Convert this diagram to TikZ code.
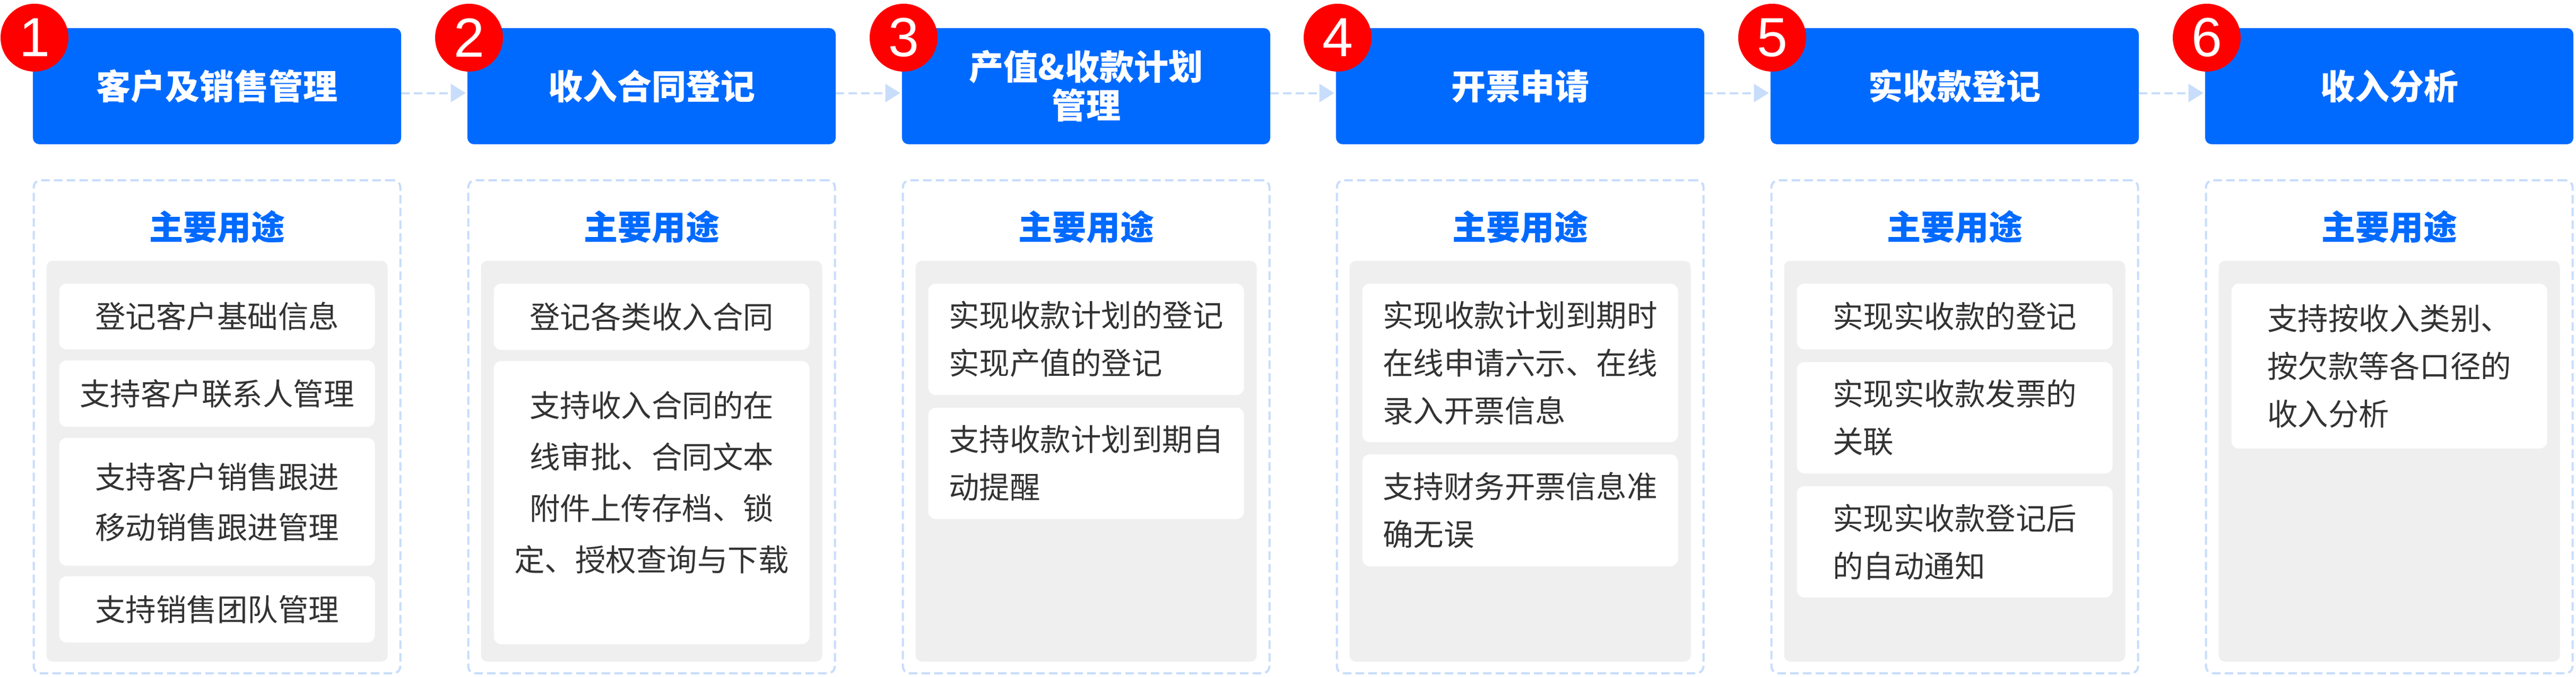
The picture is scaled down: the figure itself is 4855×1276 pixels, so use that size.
\documentclass[tikz,border=0pt]{standalone}
\usepackage{fontspec}
\setmainfont{Noto Sans CJK SC}
\newfontfamily\numfont{Liberation Sans}
\usetikzlibrary{arrows.meta}

\definecolor{headblue}{RGB}{0,106,255}
\definecolor{paleblue}{RGB}{200,221,251}
\definecolor{panelgrey}{RGB}{239,239,239}
\definecolor{itemgrey}{RGB}{51,51,51}
\definecolor{dotred}{RGB}{255,0,0}

\tikzset{
 headbox/.style={rectangle, fill=headblue, rounded corners=6pt, minimum width=347pt, minimum height=109.5pt, inner sep=0pt, text=white, align=center, font=\fontsize{32.5pt}{36.5pt}\selectfont\bfseries},
 numdot/.style={circle, fill=dotred, minimum size=64pt, inner sep=0pt, text=white, font=\numfont\fontsize{52pt}{52pt}\selectfont},
 usebox/.style={rectangle, draw=paleblue, line width=2pt, dash pattern=on 8pt off 4pt, rounded corners=6.5pt, minimum width=345.5pt, minimum height=465pt, inner sep=0pt},
 usetitle/.style={text=headblue, inner sep=0pt, font=\fontsize{32pt}{32pt}\selectfont\bfseries},
 greypanel/.style={rectangle, fill=panelgrey, rounded corners=6pt, minimum width=321.5pt, minimum height=378pt, inner sep=0pt},
 itembox/.style={rectangle, fill=white, rounded corners=7pt, minimum width=297.5pt, inner sep=0pt, text=itemgrey, align=left, font=\fontsize{28.75pt}{45pt}\selectfont},
 itemtext/.style={text=itemgrey, inner sep=0pt, align=center, font=\fontsize{28.75pt}{48.5pt}\selectfont},
 flowarrow/.style={draw=paleblue, line width=2pt, dash pattern=on 8pt off 4pt, -{Triangle[length=14pt,width=17pt]}}
}

\begin{document}
\begin{tikzpicture}[x=0.5pt, y=-0.5pt]

\fill[white] (0,0) rectangle (4855,1276);
\useasboundingbox (0,0) rectangle (4855,1276);

%% blue step boxes
\path
(409,162.5) node[headbox](head1){客户及销售管理}
(1228,162.5) node[headbox](head2){收入合同登记}
(2047,162.5) node[headbox](head3){产值\&收款计划\\管理}
(2865,162.5) node[headbox](head4){开票申请}
(3684,162.5) node[headbox](head5){实收款登记}
(4503,162.5) node[headbox](head6){收入分析};

%% red step numbers
\path
(65,71) node[numdot](num1){1}
(884,71) node[numdot](num2){2}
(1703,71) node[numdot](num3){3}
(2521,71) node[numdot](num4){4}
(3340,71) node[numdot](num5){5}
(4159,71) node[numdot](num6){6};

%% dashed arrows between steps
\draw[flowarrow] ([yshift=-6.5pt]head1.east) -- ([yshift=-6.5pt, xshift=-1.5pt]head2.west);
\draw[flowarrow] ([yshift=-6.5pt]head2.east) -- ([yshift=-6.5pt, xshift=-1.5pt]head3.west);
\draw[flowarrow] ([yshift=-6.5pt]head3.east) -- ([yshift=-6.5pt, xshift=-1.5pt]head4.west);
\draw[flowarrow] ([yshift=-6.5pt]head4.east) -- ([yshift=-6.5pt, xshift=-1.5pt]head5.west);
\draw[flowarrow] ([yshift=-6.5pt]head5.east) -- ([yshift=-6.5pt, xshift=-1.5pt]head6.west);

%% dashed frames, titles and grey panels
\path
(409,805) node[usebox](use1){}
(1228,805) node[usebox](use2){}
(2047,805) node[usebox](use3){}
(2865,805) node[usebox](use4){}
(3684,805) node[usebox](use5){}
(4503,805) node[usebox](use6){};
\path
(409,428) node[usetitle](title1){主要用途}
(1228,428) node[usetitle](title2){主要用途}
(2047,428) node[usetitle](title3){主要用途}
(2865,428) node[usetitle](title4){主要用途}
(3684,428) node[usetitle](title5){主要用途}
(4503,428) node[usetitle](title6){主要用途};
\path
(409,870) node[greypanel](panel1){}
(1228,870) node[greypanel](panel2){}
(2047,870) node[greypanel](panel3){}
(2865,870) node[greypanel](panel4){}
(3684,870) node[greypanel](panel5){}
(4503,870) node[greypanel](panel6){};

%% items of step 1
\path
(409,597) node[itembox, minimum height=62pt](item1a){登记客户基础信息}
(409,742.5) node[itembox, minimum height=62.5pt](item1b){支持客户联系人管理}
(409,946.5) node[itembox, minimum height=120.5pt, font=\fontsize{28.75pt}{47.5pt}\selectfont](item1c){支持客户销售跟进\\移动销售跟进管理}
(409,1149.5) node[itembox, minimum height=62.5pt](item1d){支持销售团队管理};

%% items of step 2
\path
(1228,597.5) node[itembox, minimum height=62.5pt](item2a){登记各类收入合同}
(1228,948) node[itembox, minimum height=267pt](item2b){};
\node[itemtext](text2b) at (1228,910) {支持收入合同的在\\线审批、合同文本\\附件上传存档、锁\\定、授权查询与下载};

%% items of step 3
\path
(2047,640) node[itembox, minimum height=105pt](item3a){实现收款计划的登记\\实现产值的登记}
(2047,874) node[itembox, minimum height=105pt](item3b){支持收款计划到期自\\动提醒};

%% items of step 4
\path
(2865,684.5) node[itembox, minimum height=149.5pt](item4a){实现收款计划到期时\\在线申请六示、在线\\录入开票信息}
(2865,962.5) node[itembox, minimum height=105.5pt](item4b){支持财务开票信息准\\确无误};

%% items of step 5
\path
(3684,597) node[itembox, minimum height=62pt](item5a){实现实收款的登记}
(3684,788) node[itembox, minimum height=105pt](item5b){实现实收款发票的\\关联}
(3684,1022) node[itembox, minimum height=105pt](item5c){实现实收款登记后\\的自动通知};

%% items of step 6
\path
(4503,690.5) node[itembox, minimum height=155.5pt](item6a){支持按收入类别、\\按欠款等各口径的\\收入分析};

\end{tikzpicture}
\end{document}
